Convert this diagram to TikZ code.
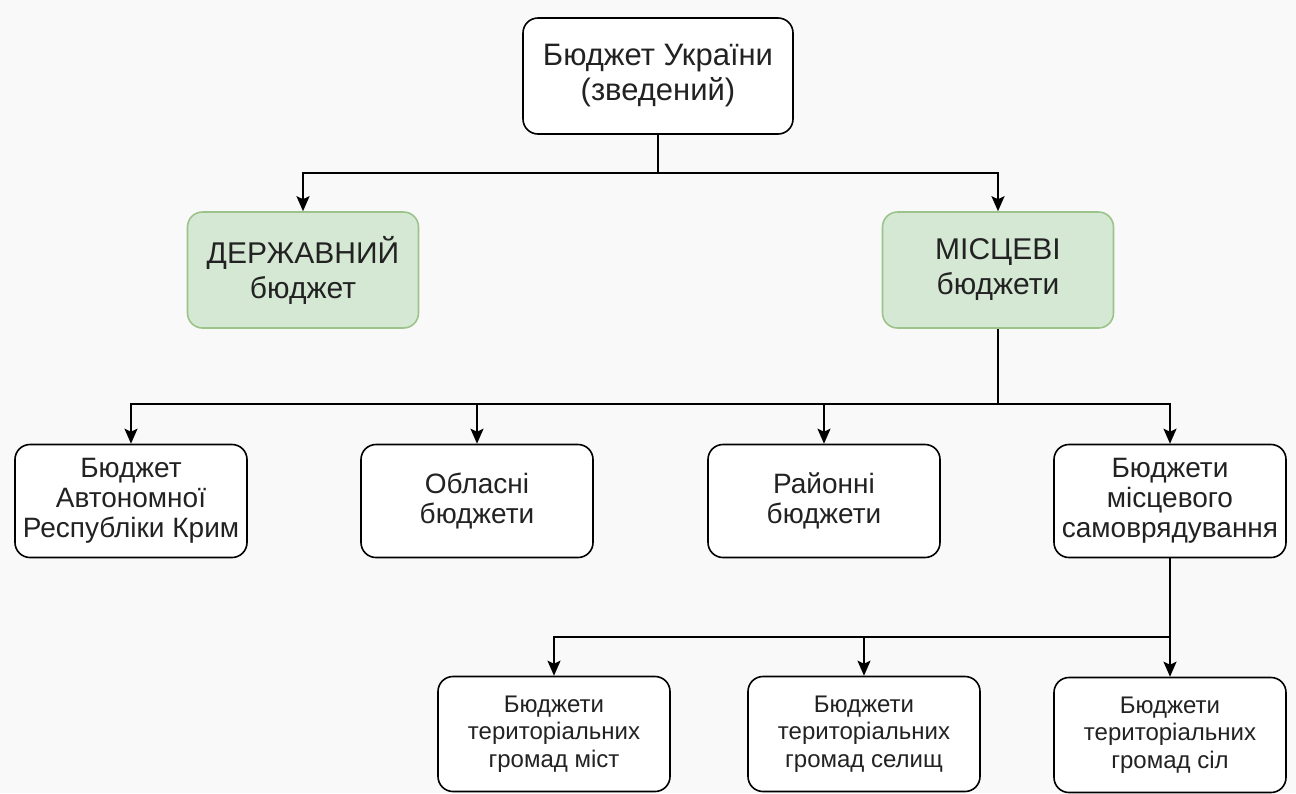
\documentclass[tikz,border=0pt]{standalone}
\usepackage{fontspec}
\setmainfont{Liberation Sans}
\usetikzlibrary{arrows.meta}
\definecolor{bg}{HTML}{F9F9F9}
\definecolor{gfill}{HTML}{D5E8D4}
\definecolor{gline}{HTML}{9CC48A}
\definecolor{txt}{HTML}{222222}
\tikzset{
  box/.style={draw=black, line width=1.6pt, rounded corners=15pt, fill=white, align=center, text=txt, inner sep=2pt},
  topbox/.style={box, minimum width=270pt, minimum height=116pt, font=\fontsize{31}{35}\selectfont},
  greenbox/.style={box, draw=gline, fill=gfill, minimum width=231pt, minimum height=116pt, font=\fontsize{30}{35}\selectfont},
  midbox/.style={box, minimum width=232pt, minimum height=113pt, font=\fontsize{28}{30}\selectfont},
  lowbox/.style={box, minimum width=232pt, minimum height=115pt, font=\fontsize{24}{27.5}\selectfont},
  arr/.style={line width=2pt, -{Stealth[length=15pt,width=13pt,inset=3pt]}},
  ln/.style={line width=2pt}
}
\begin{document}
\begin{tikzpicture}[x=1pt,y=-1pt]
\fill[bg] (0,0) rectangle (1296,793);
\useasboundingbox (0,0) rectangle (1296,793);
\node[topbox] (top) at (658,76) {Бюджет України\\(зведений)};
\node[greenbox] (dz) at (303,270) {ДЕРЖАВНИЙ\\бюджет};
\node[greenbox] (mis) at (998,270) {МІСЦЕВІ\\бюджети};
\node[midbox] (n1) at (131,501) {Бюджет\\Автономної\\Республіки Крим};
\node[midbox] (n2) at (477,501) {Обласні\\бюджети};
\node[midbox] (n3) at (824,501) {Районні\\бюджети};
\node[midbox] (n4) at (1170,501) {Бюджети\\місцевого\\самоврядування};
\node[lowbox] (m1) at (554,734) {Бюджети\\територіальних\\громад міст};
\node[lowbox] (m2) at (864,734) {Бюджети\\територіальних\\громад селищ};
\node[lowbox] (m3) at (1170,735) {Бюджети\\територіальних\\громад сіл};
\coordinate (j1) at (658,173);
\coordinate (j2) at (998,404);
\coordinate (j3) at (1170,637);
\draw[ln] (top) -- (j1);
\draw[arr] (j1) -| (dz);
\draw[arr] (j1) -| (mis);
\draw[ln] (mis) -- (j2);
\draw[arr] (j2) -| (n1);
\draw[arr] (j2) -| (n2);
\draw[arr] (j2) -| (n3);
\draw[arr] (j2) -| (n4);
\draw[ln] (n4) -- (j3);
\draw[arr] (j3) -| (m1);
\draw[arr] (j3) -| (m2);
\draw[arr] (j3) -- (m3);
\end{tikzpicture}
\end{document}
